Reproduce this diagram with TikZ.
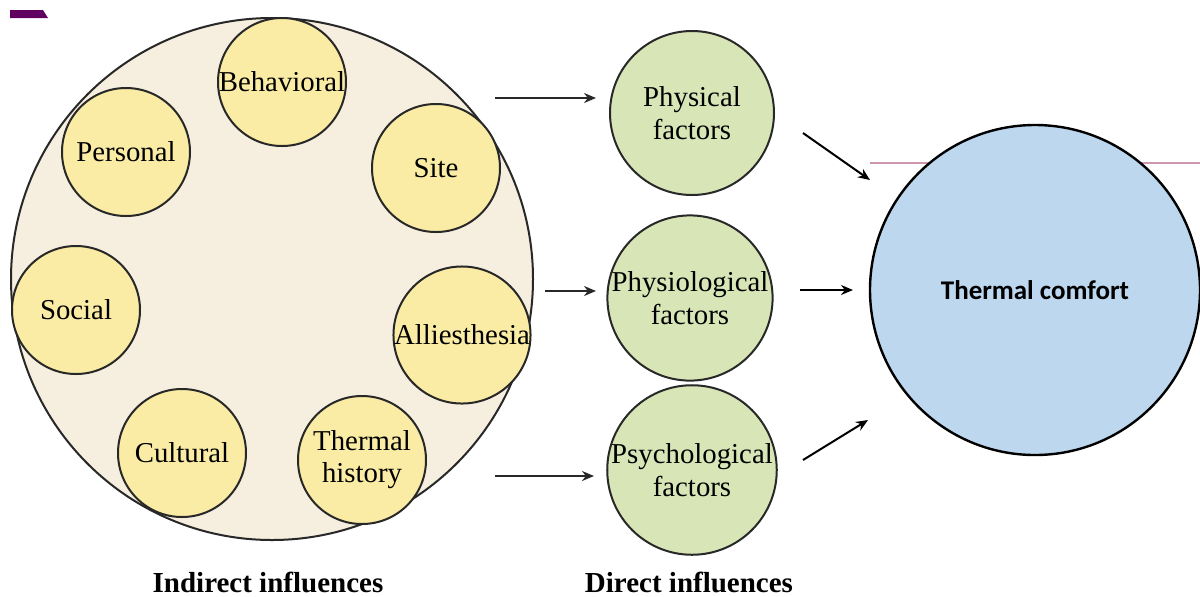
\documentclass[tikz,border=0pt]{standalone}
\usepackage{fontspec}
\setmainfont{Liberation Serif}
\newfontfamily\calibri{Carlito}
\usetikzlibrary{arrows.meta}
\definecolor{outer}{RGB}{246,238,222}
\definecolor{yell}{RGB}{250,236,164}
\definecolor{grn}{RGB}{215,229,183}
\definecolor{blu}{RGB}{189,215,238}
\definecolor{edge}{RGB}{40,40,40}
\definecolor{mauve}{RGB}{205,150,175}
\tikzset{
	indirect/.style={circle,draw=edge,line width=1pt,fill=yell,minimum size=64pt,inner sep=0pt,align=center,font=\fontsize{14.4}{16}\selectfont},
	direct/.style={circle,draw=edge,line width=1pt,fill=grn,minimum size=82pt,inner sep=0pt,align=center,font=\fontsize{14.4}{16.5}\selectfont},
	arr/.style={-{Stealth[length=6pt,width=5pt]},line width=1pt,draw=edge},
}
\begin{document}
\begin{tikzpicture}[x=0.5pt,y=-0.5pt]
			\useasboundingbox (0,0) rectangle (1200,596);
			% stray marks
			\fill[violet!75!black] (10,10) -- (43,10) -- (48,18) -- (10,18) -- cycle;
			\draw[mauve,line width=0.6pt] (870,163) -- (1200,163);
			
			\node[circle,draw=edge,line width=1pt,fill=outer,minimum size=261pt,inner sep=0pt] (big) at (272,279) {};
			
			\node[indirect] (beh) at (282,82) {Behavioral};
			\node[indirect] (per) at (126,152) {Personal};
			\node[indirect] (site) at (436,168) {Site};
			\node[indirect] (soc) at (76,310) {Social};
			\node[indirect] (all) at (462,335) {Alliesthesia};
			\node[indirect] (cul) at (182,453) {Cultural};
			\node[indirect] (his) at (362,460) {Thermal\\history};
			
			\node[direct] (phy) at (692,113) {Physical\\factors};
			\node[direct] (phys) at (690,298) {Physiological\\factors};
			\node[direct] (psy) at (692,470) {Psychological\\factors};
			
			\node[circle,draw=black,line width=1.2pt,fill=blu,minimum size=165pt,inner sep=0pt,font=\calibri\bfseries\fontsize{13.5}{16}\selectfont] (tc) at (1035,290) {Thermal comfort};
			
			\coordinate (a1) at (495,98);
			\coordinate (a2) at (545,291);
			\coordinate (a3) at (495,476);
			\coordinate (b1) at (803,133);
			\coordinate (b2) at (800,290);
			\coordinate (b3) at (803,460);
			\coordinate (c1) at (870,180);
			\coordinate (c2) at (853,290);
			\coordinate (c3) at (868,420);
			
			\draw[arr] (a1) -- ++(101,0);
			\draw[arr] (a2) -- ++(51,0);
			\draw[arr] (a3) -- ++(99,0);
			\draw[arr,draw=black] (b1) -- (c1);
			\draw[arr,draw=black] (b2) -- (c2);
			\draw[arr,draw=black] (b3) -- (c3);
			
			\node[font=\bfseries\fontsize{14.5}{16}\selectfont] (ind) at (268,582) {Indirect influences};
			\node[font=\bfseries\fontsize{14.5}{16}\selectfont] (dir) at (689,582) {Direct influences};
		\end{tikzpicture}
\end{document}
